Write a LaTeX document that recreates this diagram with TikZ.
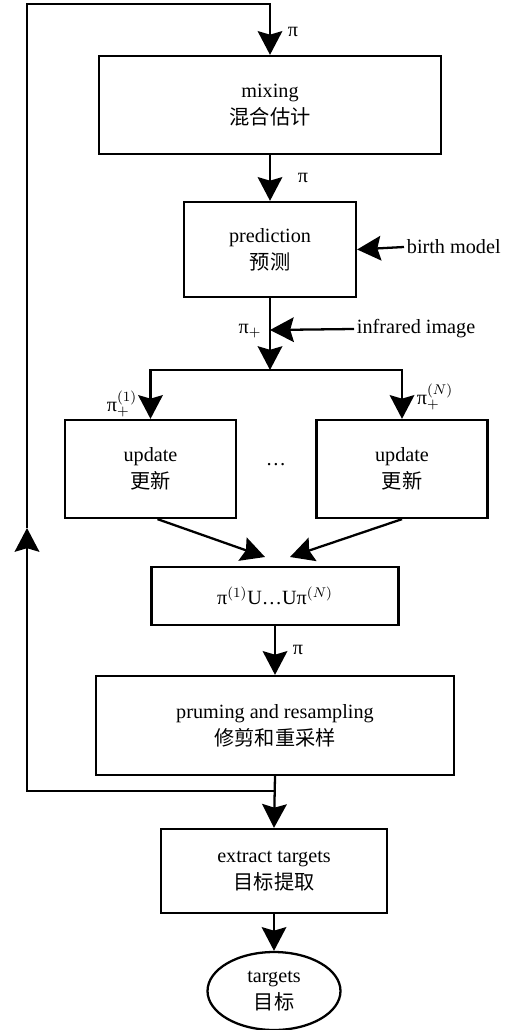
\documentclass[tikz,border=0pt]{standalone}
\usepackage{fontspec}
\setmainfont{Liberation Serif}
\newfontfamily\cjk{Noto Sans CJK SC}
\usetikzlibrary{arrows.meta,shapes.geometric}

\begin{document}
\begin{tikzpicture}[
x=0.02cm,y=-0.02cm,
line width=1.3pt,
block/.style={
draw,
fill=white,
rectangle,
align=center,
font=\fontsize{11.5}{15.5}\selectfont},
endbox/.style={
draw,
ellipse,
inner sep=0pt,
align=center,
minimum width=2.66cm,
minimum height=1.56cm,
font=\fontsize{11.5}{15.5}\selectfont},
arr/.style={-{Stealth[length=13.5pt,width=14pt,inset=2pt]}},
lbl/.style={font=\fontsize{11.5}{13}\selectfont,inner sep=1pt}
]
\useasboundingbox (0,0) rectangle (509,1030);

\draw (270,105)node[block,minimum width=6.84cm,minimum height=1.96cm](mix){mixing\\{\cjk 混合估计}};
\draw (270,249.5)node[block,minimum width=3.44cm,minimum height=1.9cm](pred){prediction\\{\cjk 预测}};
\draw (150.5,469)node[block,minimum width=3.42cm,minimum height=1.96cm](upd1){update\\{\cjk 更新}};
\draw (402,469)node[block,minimum width=3.42cm,minimum height=1.96cm](updN){update\\{\cjk 更新}};
\draw (275,596)node[block,minimum width=4.94cm,minimum height=1.16cm](uni){π$^{(1)}$U\dots Uπ$^{(N)}$};
\draw (275,725.5)node[block,minimum width=7.16cm,minimum height=1.98cm](prun){pruming and resampling\\{\cjk 修剪和重采样}};
\draw (274,871)node[block,minimum width=4.52cm,minimum height=1.68cm](ext){extract targets\\{\cjk 目标提取}};
\draw (274,991)node[endbox](tgt){targets\\{\cjk 目标}};

\draw (404,247)node[lbl,anchor=west](birth){birth model};
\draw (354,329)node[lbl,anchor=west](infra){infrared image};
\draw (276,465)node[lbl](dots){\dots};

\draw (293,32)node[lbl](pi1){π};
\draw (303,178)node[lbl](pi2){π};
\draw (250,331)node[lbl](pip){π$_{+}$};
\draw (122,404)node[lbl](pi1p){π$^{(1)}_{+}$};
\draw (435,397)node[lbl](piNp){π$^{(N)}_{+}$};
\draw (298,650)node[lbl](pi3){π};

\coordinate (ir) at (270,330);
\coordinate (split) at (270,370);
\coordinate (jl) at (265,557);
\coordinate (jr) at (290,557);
\coordinate (fork) at (275,791);
\coordinate (lb) at (27,791);
\coordinate (lm) at (27,528);
\coordinate (lt) at (27,4);

\draw[arr] (mix.south) -- (pred.north);
\draw[arr] (birth.west) -- (pred.east);
\draw[arr] (pred.south) -- (split);
\draw[arr] (infra.west) -- (ir);
\draw[arr] (split) -| (upd1.north);
\draw[arr] (split) -| (updN.north);
\draw[arr] ([xshift=4pt]upd1.south) -- (jl);
\draw[arr] (updN.south) -- (jr);
\draw[arr] (uni.south) -- (prun.north);
\draw[arr] (prun.south) -- (ext.north);
\draw[arr] (ext.south) -- (tgt.north);
\draw[arr] (fork) -- (lb) -- (lm);
\draw[arr] (lm) -- (lt) -| (mix.north);

\end{tikzpicture}
\end{document}
